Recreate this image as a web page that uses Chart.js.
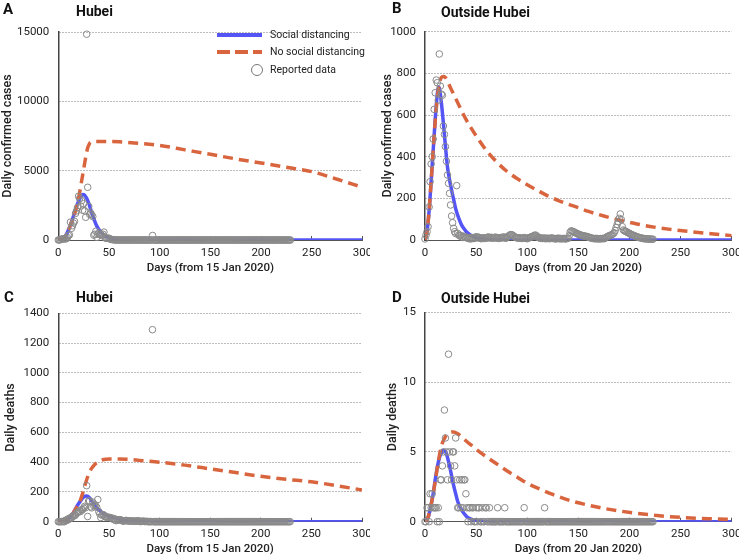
<!DOCTYPE html>
<html>
<head>
<meta charset="utf-8">
<script src="https://cdn.jsdelivr.net/npm/chart.js@4.4.0/dist/chart.umd.min.js"></script>
<style>
  body { margin: 0; background: #fff; font-family: Roboto, sans-serif; }
  #wrap { position: relative; width: 739px; height: 557px; overflow: hidden; }
  canvas { position: absolute; }
  .t { position: absolute; font-weight: 700; color: #111; white-space: nowrap; }
  .let { font-size: 15px; line-height: 15px; }
  .ttl { font-size: 14px; line-height: 14px; }
  .lg { position: absolute; font-size: 10.5px; line-height: 14px; color: #222; white-space: nowrap; }
</style>
</head>
<body>
<div id="wrap">
  <canvas id="cA" width="370" height="280" style="left:0;top:0"></canvas>
  <canvas id="cB" width="369" height="280" style="left:370px;top:0"></canvas>
  <canvas id="cC" width="370" height="277" style="left:0;top:280px"></canvas>
  <canvas id="cD" width="369" height="277" style="left:370px;top:280px"></canvas>

  <div class="t let" style="left:3px;top:2px">A</div>
  <div class="t ttl" style="left:76px;top:4px">Hubei</div>
  <div class="t let" style="left:392px;top:1px">B</div>
  <div class="t ttl" style="left:441px;top:5px">Outside Hubei</div>
  <div class="t let" style="left:4px;top:290px">C</div>
  <div class="t ttl" style="left:76px;top:290px">Hubei</div>
  <div class="t let" style="left:392px;top:290px">D</div>
  <div class="t ttl" style="left:441px;top:291px">Outside Hubei</div>

  <div style="position:absolute;left:217px;top:33px;width:45px;height:4px;background:#5555f5"></div>
  <div style="position:absolute;left:217px;top:50px;width:45px;height:4px;background:repeating-linear-gradient(90deg,#d9653f 0 13px,transparent 13px 18px)"></div>
  <div style="position:absolute;left:251px;top:64px;width:12px;height:12px;box-sizing:border-box;border:1.2px solid #777;border-radius:50%"></div>
  <div class="lg" style="left:270px;top:28px">Social distancing</div>
  <div class="lg" style="left:270px;top:45px">No social distancing</div>
  <div class="lg" style="left:270px;top:63px">Reported data</div>
</div>
<script>
// model curves (day, value) and reported daily counts (index = day)

// A: Hubei, daily confirmed cases
const sdDaysA = [0,3,5,8,11,14,17,20,22,24,26,28,30,32,34,36,38,40,43,46,50,55,60,70,80,100,150,200,250,300];
const sdA = [0,20,100,400,900,1500,2200,2800,3100,3280,3230,3000,2650,2200,1750,1350,1000,750,480,300,170,90,50,15,5,0,0,0,0,0];
const nsdDaysA = [0,3,5,8,11,14,17,19,21,23,25,27,29,31,34,40,50,60,75,100,125,150,175,200,225,250,275,300];
const nsdA = [0,20,100,400,900,1500,2100,2700,3400,4250,5100,5950,6650,6980,7080,7100,7100,7080,7000,6820,6500,6180,5850,5550,5250,4930,4380,3800];
const repA = [
  0,4,17,59,77,72,105,69,105,180,323,371,1291,840,1032,1220,1347,1921,2103,2345,
  3156,2987,2447,2841,2147,2618,2097,1638,14840,3800,2420,1843,1933,1807,1693,349,411,631,196,409,
  499,401,409,318,423,570,196,114,115,134,126,74,41,36,17,13,8,5,4,1,
  0,1,0,0,0,0,0,0,0,0,0,0,0,0,0,0,0,0,0,0,
  0,0,0,0,0,0,0,0,0,0,0,0,0,325,0,0,0,0,0,0,
  0,0,0,0,0,0,0,0,0,0,0,0,0,0,0,0,0,0,0,0,
  0,0,0,0,0,0,0,0,0,0,0,0,0,0,0,0,0,0,0,0,
  0,0,0,0,0,0,0,0,0,0,0,0,0,0,0,0,0,0,0,0,
  0,0,0,0,0,0,0,0,0,0,0,0,0,0,0,0,0,0,0,0,
  0,0,0,0,0,0,0,0,0,0,0,0,0,0,0,0,0,0,0,0,
  0,0,0,0,0,0,0,0,0,0,0,0,0,0,0,0,0,0,0,0,
  0,0,0,0,0,0,0,0,0,0
];

// B: outside Hubei, daily confirmed cases
const sdDaysB = [0,2,4,6,8,10,12,13,14,16,18,20,22,24,26,28,30,33,36,38,40,45,50,55,60,70,80,100,300];
const sdB = [0,40,140,280,430,580,700,735,730,660,560,450,350,290,240,195,150,105,70,55,42,22,12,6,3,1,0,0,0];
const nsdDaysB = [0,2,4,6,8,10,12,14,16,18,20,25,30,40,50,60,70,80,90,100,110,120,130,140,150,160,170,180,190,200,210,220,240,260,280,300];
const nsdB = [0,40,140,280,430,570,680,750,780,785,780,730,680,580,500,430,375,330,295,265,238,212,190,172,155,137,122,108,96,85,74,65,51,40,30,21];
const repB = [
  5,24,40,64,158,280,365,400,485,627,707,768,755,672,893,739,700,695,547,507,
  448,378,312,272,224,168,115,83,56,40,31,261,32,24,19,22,15,12,18,14,
  11,13,9,6,10,5,12,8,7,11,16,10,14,12,8,6,9,11,7,10,
  8,12,15,11,9,13,10,8,12,14,9,11,7,10,12,9,13,15,11,8,
  12,16,20,24,26,25,22,18,14,12,10,9,11,8,10,7,9,12,8,10,
  6,9,11,13,15,17,19,22,24,20,16,12,10,8,9,7,10,8,6,9,
  7,8,6,9,10,7,8,6,5,7,9,6,8,5,7,6,8,5,6,7,
  8,20,38,44,42,40,38,35,33,30,28,26,24,22,21,20,19,18,17,16,
  14,12,10,9,8,7,6,8,5,7,6,5,7,6,8,6,8,12,15,18,
  20,22,24,26,30,35,45,60,75,88,104,125,98,64,48,44,42,40,36,34,
  32,28,26,24,22,20,18,16,14,13,11,10,9,8,6,7,5,6,5,4,
  5,4,3,4
];

// C: Hubei, daily deaths
const sdDaysC = [0,5,10,14,18,22,25,28,31,34,37,40,45,50,55,60,70,80,100,150,300];
const sdC = [0,5,20,50,100,140,165,172,160,130,100,80,55,38,27,18,8,4,1,0,0];
const nsdDaysC = [0,5,10,14,18,21,24,27,30,33,36,40,45,50,60,70,80,100,125,150,175,200,225,250,275,300];
const nsdC = [0,5,20,50,95,130,190,260,320,360,385,405,418,422,422,418,412,400,380,355,330,305,285,268,242,213];
const repC = [
  0,0,0,1,0,2,0,9,8,16,13,24,24,25,37,37,42,45,56,64,
  65,70,69,81,81,91,103,94,242,35,139,139,100,93,132,108,115,106,96,149,
  68,52,28,44,47,45,34,31,31,30,29,28,27,21,17,22,11,7,14,10,
  14,13,11,8,3,7,6,9,7,4,6,5,3,5,5,3,4,3,4,7,
  3,1,2,3,4,2,1,2,2,0,0,1,0,1290,0,0,0,0,0,0,
  0,0,0,0,0,0,0,0,0,0,0,0,0,0,0,0,0,0,0,0,
  0,0,0,0,0,0,0,0,0,0,0,0,0,0,0,0,0,0,0,0,
  0,0,0,0,0,0,0,0,0,0,0,0,0,0,0,0,0,0,0,0,
  0,0,0,0,0,0,0,0,0,0,0,0,0,0,0,0,0,0,0,0,
  0,0,0,0,0,0,0,0,0,0,0,0,0,0,0,0,0,0,0,0,
  0,0,0,0,0,0,0,0,0,0,0,0,0,0,0,0,0,0,0,0,
  0,0,0,0,0,0,0,0,0,0
];

// D: outside Hubei, daily deaths
const sdDaysD = [0,3,5,8,10,12,14,16,18,20,22,24,26,28,30,32,35,38,41,45,50,55,60,70,300];
const sdD = [0,0.3,0.85,2.0,3.0,3.9,4.55,4.95,5.12,5.05,4.6,4.0,3.3,2.6,2.0,1.45,0.95,0.6,0.35,0.18,0.08,0.04,0.02,0,0];
const nsdDaysD = [0,2,5,8,10,13,16,20,24,28,32,36,40,45,50,60,70,80,90,100,112,125,145,160,175,190,207,225,240,260,280,300];
const nsdD = [0,0.1,0.9,2.0,2.9,4.3,5.4,6.1,6.38,6.43,6.3,6.05,5.8,5.5,5.2,4.65,4.15,3.65,3.2,2.75,2.35,1.95,1.45,1.18,0.95,0.77,0.6,0.46,0.36,0.27,0.21,0.16];
const repD = [
  0,0,1,1,0,2,1,2,1,1,1,1,0,1,0,3,3,4,5,8,
  6,5,3,12,5,4,3,5,5,4,6,3,1,1,3,1,3,1,3,3,
  2,1,0,1,1,0,1,1,0,0,1,0,1,1,0,0,1,0,0,1,
  1,0,0,1,0,0,0,0,0,0,0,1,0,0,0,0,0,0,1,0,
  0,0,0,0,0,0,0,0,0,0,0,0,0,0,0,0,0,1,0,0,
  0,0,0,0,0,0,0,0,0,0,0,0,0,0,0,0,0,1,0,0,
  0,0,0,0,0,0,0,0,0,0,0,0,0,0,0,0,0,0,0,0,
  0,0,0,0,0,0,0,0,0,0,0,0,0,0,0,0,0,0,0,0,
  0,0,0,0,0,0,0,0,0,0,0,0,0,0,0,0,0,0,0,0,
  0,0,0,0,0,0,0,0,0,0,0,0,0,0,0,0,0,0,0,0,
  0,0,0,0,0,0,0,0,0,0,0,0,0,0,0,0,0,0,0,0,
  0,0,0,0
];

const BLUE = '#5555f5';
const ORANGE = '#d9653f';
const GREY = '#8a8a8a';
const INK = '#222';
const tickFont = { family: 'Roboto', size: 11.5 };
const xTitleFont = { family: 'Roboto', size: 11.5, weight: '500' };
const yTitleFont = { family: 'Roboto', size: 12.5, weight: '500' };

function pts(days, vals) {
  return days.map((d, i) => ({ x: d, y: vals[i] }));
}
function daily(vals) {
  return vals.map((v, i) => ({ x: i, y: v }));
}

function panel(id, c) {
  return new Chart(document.getElementById(id), {
    type: 'scatter',
    data: {
      datasets: [
        { label: 'Reported data', data: daily(c.rep), showLine: false,
          pointRadius: 3.3, pointBorderWidth: 1, pointBorderColor: GREY,
          pointBackgroundColor: 'rgba(255,255,255,0)', clip: false, order: 0 },
        { label: 'No social distancing', data: pts(c.nsdDays, c.nsd), showLine: true,
          borderColor: ORANGE, borderWidth: 3.5, borderDash: [10, 6], pointRadius: 0,
          cubicInterpolationMode: 'monotone', order: 1 },
        { label: 'Social distancing', data: pts(c.sdDays, c.sd), showLine: true,
          borderColor: BLUE, borderWidth: 3.5, pointRadius: 0,
          cubicInterpolationMode: 'monotone', order: 2 }
      ]
    },
    options: {
      responsive: false,
      animation: false,
      devicePixelRatio: 1,
      layout: { padding: c.pad },
      plugins: { legend: { display: false }, tooltip: { enabled: false } },
      scales: {
        x: {
          type: 'linear', min: 0, max: 300,
          afterFit: s => { s.height = c.xh; s.paddingLeft = 0; s.paddingRight = 0; },
          ticks: { stepSize: 50, font: tickFont, color: INK, padding: 10, maxRotation: 0,
                   callback: v => String(v) },
          grid: { display: true, drawOnChartArea: false, drawTicks: true, tickLength: -4,
                  color: '#555', lineWidth: 1 },
          border: { color: '#555', width: 1 },
          title: { display: true, text: c.xTitle, font: xTitleFont, color: INK,
                   padding: { top: 0, bottom: c.xtp } }
        },
        y: {
          min: 0, max: c.yMax,
          afterFit: s => { s.width = c.yw; s.paddingTop = 0; s.paddingBottom = 0; },
          ticks: { stepSize: c.yStep, font: tickFont, color: INK, padding: 9,
                   callback: v => String(v) },
          grid: { drawTicks: false, lineWidth: 1,
                  color: ctx => ctx.tick && ctx.tick.value === 0 ? 'rgba(0,0,0,0)' : '#7a7a7a' },
          border: { color: '#444', width: 1.5, dash: [1, 2] },
          title: { display: true, text: c.yTitle, font: yTitleFont, color: INK,
                   padding: { top: c.ytp, bottom: 0 } }
        }
      }
    }
  });
}

panel('cA', { rep: repA, sdDays: sdDaysA, sd: sdA, nsdDays: nsdDaysA, nsd: nsdA,
  yMax: 15000, yStep: 5000, yTitle: 'Daily confirmed cases', xTitle: 'Days (from 15 Jan 2020)',
  pad: { left: 0, top: 32, right: 7.5, bottom: 0 }, yw: 58.3, xh: 40, ytp: 0.5, xtp: 4.8 });

panel('cB', { rep: repB, sdDays: sdDaysB, sd: sdB, nsdDays: nsdDaysB, nsd: nsdB,
  yMax: 1000, yStep: 200, yTitle: 'Daily confirmed cases', xTitle: 'Days (from 20 Jan 2020)',
  pad: { left: 10, top: 31.7, right: 7.3, bottom: 0 }, yw: 45, xh: 40, ytp: 0, xtp: 4.5 });

panel('cC', { rep: repC, sdDays: sdDaysC, sd: sdC, nsdDays: nsdDaysC, nsd: nsdC,
  yMax: 1400, yStep: 200, yTitle: 'Daily deaths', xTitle: 'Days (from 15 Jan 2020)',
  pad: { left: 3, top: 33.3, right: 8, bottom: 0 }, yw: 55.3, xh: 35.3, ytp: 0.3, xtp: 0.8 });

panel('cD', { rep: repD, sdDays: sdDaysD, sd: sdD, nsdDays: nsdDaysD, nsd: nsdD,
  yMax: 15, yStep: 5, yTitle: 'Daily deaths', xTitle: 'Days (from 20 Jan 2020)',
  pad: { left: 15, top: 32.3, right: 7.3, bottom: 0 }, yw: 40, xh: 35.3, ytp: 0.3, xtp: 0.5 });
</script>
</body>
</html>
